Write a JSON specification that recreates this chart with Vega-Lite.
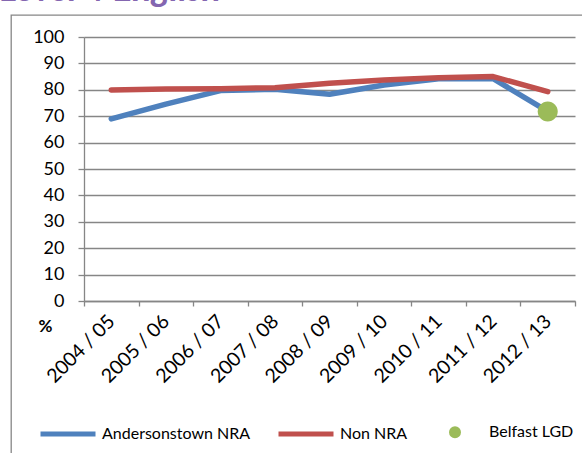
{
  "$schema": "https://vega.github.io/schema/vega-lite/v6.json",
  "width": 491,
  "height": 264,
  "autosize": {"type": "none"},
  "padding": {"left": 84, "top": 37, "right": 7, "bottom": 152},
  "background": "white",
  "title": {
    "text": "Level 4 English",
    "anchor": "start",
    "frame": "group",
    "dx": -84,
    "offset": -23,
    "baseline": "alphabetic",
    "font": "Lato",
    "fontSize": 36,
    "fontStyle": "italic",
    "fontWeight": "bold",
    "color": "#8466B0"
  },
  "config": {
    "view": {"stroke": null},
    "font": "Lato",
    "legend": {
      "strokeColor": "#868686",
      "strokeWidth": 1.3,
      "fillColor": "transparent"
    }
  },
  "data": {
    "values": [
      {"year": "2004 / 05", "series": "Andersonstown NRA", "value": 69.0},
      {"year": "2005 / 06", "series": "Andersonstown NRA", "value": 74.6},
      {"year": "2006 / 07", "series": "Andersonstown NRA", "value": 79.7},
      {"year": "2007 / 08", "series": "Andersonstown NRA", "value": 80.2},
      {"year": "2008 / 09", "series": "Andersonstown NRA", "value": 78.3},
      {"year": "2009 / 10", "series": "Andersonstown NRA", "value": 81.8},
      {"year": "2010 / 11", "series": "Andersonstown NRA", "value": 84.2},
      {"year": "2011 / 12", "series": "Andersonstown NRA", "value": 84.2},
      {"year": "2012 / 13", "series": "Andersonstown NRA", "value": 71.8},
      {"year": "2004 / 05", "series": "Non NRA", "value": 79.9},
      {"year": "2005 / 06", "series": "Non NRA", "value": 80.3},
      {"year": "2006 / 07", "series": "Non NRA", "value": 80.4},
      {"year": "2007 / 08", "series": "Non NRA", "value": 80.8},
      {"year": "2008 / 09", "series": "Non NRA", "value": 82.5},
      {"year": "2009 / 10", "series": "Non NRA", "value": 83.7},
      {"year": "2010 / 11", "series": "Non NRA", "value": 84.6},
      {"year": "2011 / 12", "series": "Non NRA", "value": 85.0},
      {"year": "2012 / 13", "series": "Non NRA", "value": 79.3},
      {"year": "2012 / 13", "series": "Belfast LGD", "value": 71.8}
    ]
  },
  "encoding": {
    "x": {
      "field": "year",
      "type": "ordinal",
      "scale": {"type": "band", "paddingInner": 0, "paddingOuter": 0},
      "axis": {
        "title": null,
        "tickBand": "extent",
        "grid": false,
        "labelAngle": -45,
        "labelAlign": "right",
        "labelBaseline": "middle",
        "labelPadding": 12,
        "labelFont": "Lato",
        "labelFontSize": 19.5,
        "labelColor": "#000000",
        "tickSize": 5,
        "tickColor": "#868686",
        "tickWidth": 1.3,
        "domainColor": "#868686",
        "domainWidth": 1.3
      }
    },
    "y": {
      "field": "value",
      "type": "quantitative",
      "scale": {"domain": [0, 100], "nice": false},
      "axis": {
        "values": [0, 10, 20, 30, 40, 50, 60, 70, 80, 90, 100],
        "grid": true,
        "gridColor": "#868686",
        "gridWidth": 1.3,
        "tickSize": 6,
        "tickColor": "#868686",
        "tickWidth": 1.3,
        "domainColor": "#868686",
        "domainWidth": 1.3,
        "labelPadding": 14,
        "labelFont": "Lato",
        "labelFontSize": 18,
        "labelColor": "#000000",
        "title": "%",
        "titleAngle": 0,
        "titleX": -39,
        "titleY": 289,
        "titleAlign": "center",
        "titleBaseline": "middle",
        "titleFont": "Lato",
        "titleFontSize": 17,
        "titleFontWeight": "bold",
        "titleColor": "#000000"
      }
    }
  },
  "layer": [
    {
      "transform": [{"filter": "datum.series !== 'Belfast LGD'"}],
      "mark": {"type": "line", "strokeWidth": 5.5, "strokeCap": "round", "strokeJoin": "round"},
      "encoding": {
        "color": {
          "field": "series",
          "type": "nominal",
          "scale": {
            "domain": ["Andersonstown NRA", "Non NRA", "Belfast LGD"],
            "range": ["#4F81BD", "#C0504D", "#9BBB59"]
          },
          "legend": {
            "orient": "none",
            "legendX": -73,
            "legendY": -22,
            "direction": "horizontal",
            "title": " ",
            "titleFontSize": 10,
            "titlePadding": 350,
            "padding": 27,
            "symbolSize": 3025,
            "symbolStrokeWidth": 5,
            "labelFont": "Lato",
            "labelFontSize": 16,
            "labelColor": "#000000",
            "labelOffset": 4,
            "labelLimit": 300,
            "columnPadding": 17
          }
        }
      }
    },
    {
      "transform": [{"filter": "datum.series === 'Belfast LGD'"}],
      "mark": {"type": "point", "filled": true, "opacity": 1, "size": 24800},
      "encoding": {
        "color": {
          "field": "series",
          "type": "nominal",
          "scale": {
            "domain": ["Andersonstown NRA", "Non NRA", "Belfast LGD"],
            "range": ["#4F81BD", "#C0504D", "#9BBB59"]
          },
          "legend": {
            "orient": "none",
            "legendX": -73,
            "legendY": -22,
            "direction": "horizontal",
            "title": " ",
            "titleFontSize": 10,
            "titlePadding": 350,
            "padding": 27,
            "symbolSize": 3025,
            "symbolStrokeWidth": 5,
            "labelFont": "Lato",
            "labelFontSize": 16,
            "labelColor": "#000000",
            "labelOffset": 4,
            "labelLimit": 300,
            "columnPadding": 17
          }
        },
        "shape": {
          "field": "series",
          "type": "nominal",
          "scale": {
            "domain": ["Andersonstown NRA", "Non NRA", "Belfast LGD"],
            "range": ["M-1,0L1,0", "M-1,0L1,0", "M-0.127,0A0.127,0.127 0 1,0 0.127,0A0.127,0.127 0 1,0 -0.127,0Z"]
          },
          "legend": {
            "orient": "none",
            "legendX": -73,
            "legendY": -22,
            "direction": "horizontal",
            "title": " ",
            "titleFontSize": 10,
            "titlePadding": 350,
            "padding": 27,
            "symbolSize": 3025,
            "symbolStrokeWidth": 5,
            "labelFont": "Lato",
            "labelFontSize": 16,
            "labelColor": "#000000",
            "labelOffset": 4,
            "labelLimit": 300,
            "columnPadding": 17
          }
        }
      }
    }
  ]
}
